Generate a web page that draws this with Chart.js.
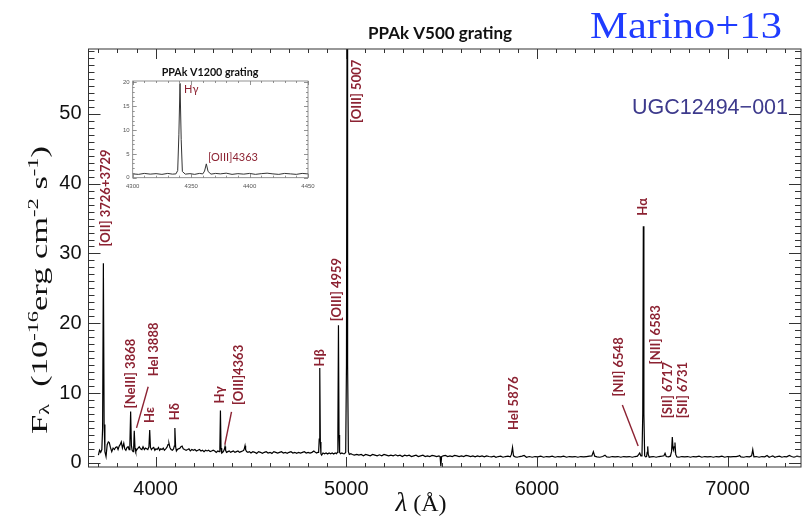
<!DOCTYPE html>
<html>
<head>
<meta charset="utf-8">
<script src="https://cdn.jsdelivr.net/npm/chart.js@4.4.1/dist/chart.umd.min.js"></script>
<style>
  html, body { margin: 0; padding: 0; background: #fff; }
  #wrap { position: relative; width: 803px; height: 520px; overflow: hidden; }
  #main { position: absolute; left: 0; top: 0; }
  #inset { position: absolute; left: 100px; top: 60px; }
</style>
</head>
<body>
<div id="wrap">
  <canvas id="main" width="803" height="520"></canvas>
  <canvas id="inset" width="220" height="140"></canvas>
</div>
<script>
// PPAk V500 spectrum of UGC12494-001: wavelength (Å) and flux (1e-16 erg cm^-2 s^-1 Å^-1)
const wavelength = [
  3700, 3706, 3712, 3718, 3722, 3726, 3730, 3734, 3740, 3746,
  3752, 3757, 3763, 3770, 3777, 3784, 3790, 3797, 3803, 3809,
  3814, 3820, 3826, 3833, 3838, 3844, 3850, 3856, 3861, 3865,
  3869, 3873, 3877, 3882, 3885, 3888, 3892, 3896, 3902, 3908,
  3914, 3921, 3928, 3934, 3941, 3947, 3953, 3959, 3965, 3969,
  3973, 3978, 3984, 3990, 3996, 4002, 4008, 4015, 4021, 4027,
  4034, 4040, 4046, 4053, 4059, 4065, 4070, 4075, 4081, 4088,
  4094, 4098, 4101, 4105, 4109, 4114, 4120, 4127, 4133, 4139,
  4145, 4152, 4160, 4168, 4175, 4182, 4190, 4198, 4206, 4214,
  4222, 4230, 4238, 4246, 4254, 4262, 4270, 4278, 4286, 4294,
  4302, 4310, 4318, 4326, 4333, 4337, 4340, 4343, 4347, 4352,
  4357, 4361, 4364, 4367, 4372, 4379, 4386, 4393, 4400, 4408,
  4416, 4424, 4432, 4440, 4448, 4456, 4462, 4466, 4469, 4472,
  4477, 4484, 4492, 4500, 4510, 4520, 4530, 4540, 4550, 4560,
  4570, 4580, 4590, 4600, 4610, 4620, 4630, 4640, 4650, 4660,
  4670, 4680, 4690, 4700, 4710, 4720, 4730, 4740, 4750, 4760,
  4770, 4780, 4790, 4800, 4810, 4820, 4830, 4838, 4845, 4851,
  4855, 4858, 4861, 4864, 4867, 4871, 4878, 4886, 4894, 4902,
  4910, 4918, 4926, 4934, 4942, 4949, 4953, 4956, 4959, 4962,
  4965, 4970, 4977, 4984, 4991, 4997, 5001, 5004, 5007, 5011,
  5016, 5024, 5032, 5042, 5055, 5066, 5078, 5090, 5102, 5114,
  5126, 5138, 5150, 5162, 5174, 5186, 5198, 5210, 5222, 5234,
  5246, 5258, 5270, 5282, 5294, 5306, 5318, 5330, 5342, 5354,
  5366, 5378, 5390, 5402, 5414, 5426, 5438, 5450, 5462, 5474,
  5486, 5492, 5496, 5500, 5508, 5520, 5532, 5544, 5556, 5568,
  5580, 5592, 5604, 5616, 5628, 5640, 5652, 5664, 5676, 5688,
  5700, 5712, 5724, 5736, 5748, 5762, 5775, 5785, 5797, 5810,
  5822, 5835, 5848, 5860, 5866, 5872, 5877, 5886, 5896, 5910,
  5922, 5933, 5945, 5960, 5975, 5990, 6005, 6020, 6035, 6050,
  6065, 6080, 6095, 6110, 6125, 6140, 6155, 6170, 6185, 6200,
  6215, 6230, 6245, 6260, 6275, 6288, 6296, 6303, 6315, 6330,
  6345, 6357, 6366, 6380, 6395, 6410, 6425, 6440, 6455, 6470,
  6485, 6500, 6515, 6527, 6534, 6539, 6545, 6551, 6555, 6558,
  6561, 6565, 6570, 6575, 6578, 6581, 6584, 6589, 6597, 6610,
  6625, 6640, 6655, 6666, 6672, 6678, 6690, 6700, 6706, 6710,
  6714, 6717, 6720, 6724, 6728, 6734, 6745, 6760, 6775, 6790,
  6805, 6820, 6835, 6850, 6865, 6880, 6895, 6910, 6925, 6940,
  6955, 6970, 6985, 7000, 7015, 7030, 7045, 7056, 7063, 7070,
  7085, 7100, 7115, 7126, 7132, 7138, 7150, 7165, 7180, 7195,
  7207, 7218, 7228, 7237, 7248, 7260, 7272, 7285, 7298, 7310,
  7324, 7335, 7348, 7364, 7375, 7385
];
const flux = [
  1.1, 1.8, 1.5, 1.9, 5.0, 28.6, 5.5, 1.6, 0.9, 2.6,
  3.0, 2.9, 2.2, 1.6, 2.1, 1.9, 2.2, 2.3, 1.9, 2.4,
  2.6, 3.0, 2.1, 2.8, 2.0, 1.8, 2.2, 2.3, 1.9, 2.6,
  7.35, 2.5, 1.8, 1.6, 2.2, 4.6, 2.1, 1.6, 1.9, 2.1,
  2.3, 2.0, 1.9, 2.3, 1.9, 2.1, 2.0, 1.9, 2.3, 4.7,
  2.2, 1.9, 2.1, 2.2, 1.8, 2.0, 1.9, 2.2, 1.8, 2.0,
  1.9, 2.1, 1.8, 2.0, 2.2, 2.6, 2.8, 2.2, 1.9, 1.8,
  2.0, 2.4, 5.0, 2.3, 1.7, 1.9, 2.0, 2.1, 2.3, 2.4,
  2.0, 1.9, 1.8, 1.9, 2.0, 1.7, 1.9, 1.8, 1.9, 1.7,
  1.8, 1.9, 1.7, 1.8, 1.6, 1.8, 1.7, 1.8, 1.6, 1.7,
  1.8, 1.7, 1.5, 1.7, 1.6, 2.2, 7.5, 2.1, 1.4, 1.5,
  1.7, 2.0, 2.35, 1.8, 1.5, 1.6, 1.7, 1.5, 1.6, 1.7,
  1.5, 1.6, 1.7, 1.5, 1.6, 1.7, 1.8, 2.1, 2.45, 1.9,
  1.6, 1.5, 1.6, 1.4, 1.6, 1.5, 1.35, 1.6, 1.5, 1.35,
  1.5, 1.6, 1.4, 1.5, 1.35, 1.6, 1.5, 1.4, 1.5, 1.6,
  1.4, 1.5, 1.35, 1.5, 1.6, 1.4, 1.5, 1.35, 1.5, 1.4,
  1.5, 1.6, 1.4, 1.5, 1.4, 1.5, 1.7, 1.5, 1.4, 1.5,
  1.5, 3.4, 13.6, 3.0, 1.3, 1.1, 1.4, 1.3, 1.4, 1.25,
  1.4, 1.3, 1.4, 1.25, 1.4, 1.3, 1.5, 4.5, 19.7, 4.0,
  1.5, 1.3, 1.4, 1.3, 1.3, 1.5, 14, 62, 14, 1.6,
  1.2, 1.3, 1.2, 1.1, 1.2, 1.1, 1.2, 1.0, 1.2, 1.1,
  1.0, 1.2, 1.1, 1.0, 1.15, 1.0, 1.2, 1.1, 1.0, 1.1,
  1.0, 1.15, 1.0, 1.1, 0.9, 1.1, 1.0, 1.1, 0.9, 1.0,
  1.1, 0.9, 1.0, 1.1, 0.9, 1.0, 0.9, 1.05, 1.0, 0.9,
  1.0, 0.9, -0.5, 0.9, 1.0, 1.05, 0.9, 1.0, 0.9, 1.05,
  1.0, 0.9, 1.0, 0.9, 1.05, 1.0, 0.9, 1.0, 0.85, 1.0,
  0.9, 1.0, 0.85, 1.0, 0.9, 0.85, 0.95, 0.8, 0.9, 0.95,
  0.8, 0.9, 0.95, 0.85, 1.2, 2.2, 1.0, 0.85, 0.8, 0.9,
  0.95, 1.05, 0.8, 0.9, 0.8, 0.9, 0.85, 0.95, 0.8, 0.9,
  0.85, 0.95, 0.8, 0.9, 0.85, 0.95, 0.8, 0.9, 0.85, 0.9,
  0.8, 0.9, 0.85, 0.9, 0.95, 1.0, 1.6, 0.95, 0.85, 0.8,
  0.9, 1.1, 0.85, 0.8, 0.9, 0.85, 0.9, 0.8, 0.9, 0.85,
  0.9, 0.8, 0.9, 0.95, 1.2, 1.4, 1.0, 1.0, 7.0, 33.9,
  7.0, 1.0, 0.85, 0.9, 1.5, 2.35, 1.2, 0.8, 0.85, 0.9,
  0.8, 0.9, 0.95, 1.0, 1.35, 0.9, 0.85, 0.95, 1.6, 3.7,
  2.0, 1.8, 2.3, 2.9, 1.2, 0.85, 0.8, 0.9, 0.85, 0.9,
  0.8, 0.9, 0.85, 0.95, 0.8, 0.9, 0.85, 0.9, 0.8, 0.9,
  0.85, 0.95, 0.8, 0.9, 0.85, 0.9, 0.9, 0.95, 1.05, 0.85,
  0.8, 0.9, 0.85, 1.0, 1.9, 0.85, 0.9, 0.8, 0.9, 0.85,
  1.05, 0.8, 0.9, 1.0, 0.8, 0.9, 0.95, 0.8, 0.9, 0.85,
  1.05, 0.9, 0.8, 0.95, 0.9, 0.9
];

// PPAk V1200 zoom around Hγ
const insetWave = [
  4300, 4305, 4310, 4315, 4320, 4325, 4330, 4334, 4337, 4338.5,
  4339.5, 4340.5, 4341.5, 4342.5, 4345, 4349, 4353, 4357, 4360, 4361.5,
  4363, 4364.5, 4367, 4371, 4375, 4380, 4385, 4390, 4395, 4400,
  4405, 4410, 4415, 4420, 4425, 4430, 4435, 4440, 4445, 4450
];
const insetFlux = [
  0.8, 0.7, 0.9, 0.75, 0.85, 0.7, 0.9, 0.75, 0.8, 1.5,
  9.0, 19.8, 8.0, 1.3, 0.75, 0.85, 0.7, 0.9, 0.8, 1.4,
  2.9, 1.3, 0.75, 0.9, 0.8, 0.95, 0.7, 0.85, 0.75, 0.9,
  0.7, 0.85, 0.95, 0.8, 0.7, 0.9, 0.8, 0.7, 0.9, 0.8
];

// axis tick labels
const xTickValues = [4000, 5000, 6000, 7000];
const yTickValues = [0, 10, 20, 30, 40, 50];
const insetXTicks = [4300, 4350, 4400, 4450];
const insetYTicks = [0, 5, 10, 15, 20];

// emission line identifications
const lineNames = [
  '[OII] 3726+3729', '[NeIII] 3868', 'HeI 3888', 'Hε', 'Hδ', 'Hγ',
  '[OIII]4363', 'Hβ', '[OIII] 4959', '[OIII] 5007', 'HeI 5876',
  '[NII] 6548', 'Hα', '[NII] 6583', '[SII] 6717', '[SII] 6731'
];
const insetNames = ['Hγ', '[OIII]4363'];

// where each rotated label sits: [wavelength of text column, flux at the text's lower end]
const labelPlacement = [
  [3740, 31.0], [3871, 7.8], [3991, 12.4], [3967, 5.7], [4101, 6.1], [4337, 8.5],
  [4435, 8.3], [4860, 13.8], [4952, 20.3], [5054, 48.7], [5881, 4.7],
  [6431, 9.5], [6557, 35.4], [6623, 14.1], [6686, 6.4], [6766, 6.4]
];
// leader strokes joining a label to its line: [λ1, F1, λ2, F2]
const leaders = [
  [3961, 10.9, 3900, 5.0],
  [4398, 7.3, 4363, 2.6],
  [6448, 8.3, 6531, 2.4]
];
// inset label anchors: [wavelength of left edge, flux at text middle]
const insetPlacement = [[4343.9, 18.6], [4364.4, 4.2]];

const LABEL_RED = '#8c2232';
const plainNumber = v => String(v);

function frameTicks(o) {
  return {
    id: 'frameTicks',
    afterDatasetsDraw(chart) {
      const { ctx, chartArea: a, scales: { x, y } } = chart;
      ctx.save();
      ctx.strokeStyle = o.color;
      ctx.lineWidth = o.width;
      ctx.strokeRect(a.left, a.top, a.right - a.left, a.bottom - a.top);
      ctx.beginPath();
      const isMajor = (v, step) => Math.abs(v / step - Math.round(v / step)) < 1e-6;
      for (let v = Math.ceil(x.min / o.xMinor) * o.xMinor; v <= x.max + 1e-9; v += o.xMinor) {
        const px = Math.round(x.getPixelForValue(v)) + 0.5;
        const len = isMajor(v, o.xMajor) ? o.xMajorLen : o.xMinorLen;
        ctx.moveTo(px, a.bottom); ctx.lineTo(px, a.bottom - len);
        ctx.moveTo(px, a.top); ctx.lineTo(px, a.top + len);
      }
      for (let v = Math.ceil(y.min / o.yMinor) * o.yMinor; v <= y.max + 1e-9; v += o.yMinor) {
        const py = Math.round(y.getPixelForValue(v)) + 0.5;
        const len = isMajor(v, o.yMajor) ? o.yMajorLen : o.yMinorLen;
        ctx.moveTo(a.left, py); ctx.lineTo(a.left + len, py);
        ctx.moveTo(a.right, py); ctx.lineTo(a.right - len, py);
      }
      ctx.stroke();
      ctx.restore();
    }
  };
}

function rotatedText(ctx, text, x, y, font, color) {
  ctx.save();
  ctx.translate(x, y);
  ctx.rotate(-Math.PI / 2);
  ctx.font = font;
  ctx.fillStyle = color;
  ctx.textAlign = 'left';
  ctx.textBaseline = 'middle';
  ctx.fillText(text, 0, 0);
  ctx.restore();
}

const mainAnnotations = {
  id: 'mainAnnotations',
  afterDraw(chart) {
    const { ctx, scales: { x, y } } = chart;
    ctx.save();
    // emission line names
    lineNames.forEach((name, i) => {
      const [w, f] = labelPlacement[i];
      rotatedText(ctx, name, x.getPixelForValue(w), y.getPixelForValue(f), 'bold 13px Lato', LABEL_RED);
    });
    ctx.strokeStyle = LABEL_RED;
    ctx.lineWidth = 1.4;
    leaders.forEach(([w1, f1, w2, f2]) => {
      ctx.beginPath();
      ctx.moveTo(x.getPixelForValue(w1), y.getPixelForValue(f1));
      ctx.lineTo(x.getPixelForValue(w2), y.getPixelForValue(f2));
      ctx.stroke();
    });

    // panel title
    ctx.fillStyle = '#111';
    ctx.font = 'bold 17px Lato';
    ctx.textAlign = 'center';
    ctx.textBaseline = 'alphabetic';
    ctx.fillText('PPAk V500 grating', 440, 39);

    // reference tag
    ctx.save();
    ctx.font = '38px "Liberation Serif"';
    ctx.fillStyle = '#1f3cff';
    ctx.translate(686, 37.5);
    ctx.scale(1.12, 1);
    ctx.textAlign = 'center';
    ctx.fillText('Marino+13', 0, 0);
    ctx.restore();

    // object name
    ctx.font = '21.5px "Liberation Sans"';
    ctx.fillStyle = '#3d3a8c';
    ctx.textAlign = 'right';
    ctx.fillText('UGC12494\u2212001', 788, 114);

    // x-axis title
    ctx.fillStyle = '#111';
    ctx.textAlign = 'left';
    ctx.font = 'italic 27px "Liberation Serif"';
    const lam = 'λ';
    const lw = ctx.measureText(lam).width;
    ctx.font = '24px "Liberation Serif"';
    const rest = ' (Å)';
    const rw = ctx.measureText(rest).width;
    const sx = 421 - (lw + rw) / 2;
    ctx.font = 'italic 27px "Liberation Serif"';
    ctx.fillText(lam, sx, 511);
    ctx.font = '24px "Liberation Serif"';
    ctx.fillText(rest, sx + lw, 511);

    // y-axis title with sub/superscripts
    const parts = [
      ['F', 'n'], ['λ', 'sub'], ['  (10', 'n'], ['-16', 'sup'], ['erg cm', 'n'],
      ['-2', 'sup'], [' s', 'n'], ['-1', 'sup'], [')', 'n']
    ];
    const big = '23px "Liberation Serif"', small = '15px "Liberation Serif"';
    let total = 0;
    parts.forEach(([t, k]) => { ctx.font = k === 'n' ? big : small; total += ctx.measureText(t).width; });
    const stretch = 288 / total;
    ctx.translate(47, 290);
    ctx.rotate(-Math.PI / 2);
    ctx.scale(stretch, 1);
    let u = -total / 2;
    parts.forEach(([t, k]) => {
      ctx.font = k === 'n' ? big : small;
      const dy = k === 'sup' ? -9 : (k === 'sub' ? 2 : 0);
      ctx.fillText(t, u, dy);
      u += ctx.measureText(t).width;
    });
    ctx.restore();
  }
};

const insetAnnotations = {
  id: 'insetAnnotations',
  afterDraw(chart) {
    const { ctx, scales: { x, y } } = chart;
    ctx.save();
    ctx.fillStyle = '#111';
    ctx.font = 'bold 10.7px Lato';
    ctx.textAlign = 'center';
    ctx.fillText('PPAk V1200 grating', 110, 16);
    ctx.fillStyle = LABEL_RED;
    ctx.textAlign = 'left';
    ctx.textBaseline = 'middle';
    ctx.font = '11px Lato';
    insetNames.forEach((name, i) => {
      const [w, f] = insetPlacement[i];
      ctx.fillText(name, x.getPixelForValue(w), y.getPixelForValue(f));
    });
    ctx.restore();
  }
};

const spectrum = wavelength.map((w, i) => ({ x: w, y: flux[i] }));
const insetSpectrum = insetWave.map((w, i) => ({ x: w, y: insetFlux[i] }));

new Chart(document.getElementById('main'), {
  type: 'line',
  data: {
    datasets: [{
      data: spectrum,
      borderColor: '#000',
      borderWidth: 1.2,
      pointRadius: 0,
      tension: 0,
      fill: false
    }]
  },
  options: {
    responsive: false,
    animation: false,
    events: [],
    layout: { padding: { left: 0, right: 2, top: 49, bottom: 0 } },
    plugins: { legend: { display: false }, tooltip: { enabled: false }, title: { display: false } },
    scales: {
      x: {
        type: 'linear', min: 3648, max: 7385,
        afterBuildTicks: s => { s.ticks = xTickValues.map(v => ({ value: v })); },
        afterFit: s => { s.height = 53; },
        grid: { display: false, drawTicks: false },
        border: { display: false },
        ticks: { color: '#111', font: { family: 'Liberation Sans', size: 20 }, padding: 10, maxRotation: 0, autoSkip: false, callback: plainNumber }
      },
      y: {
        type: 'linear', min: -0.6, max: 59.3,
        afterBuildTicks: s => { s.ticks = yTickValues.map(v => ({ value: v })); },
        afterFit: s => { s.width = 88.5; },
        grid: { display: false, drawTicks: false },
        border: { display: false },
        ticks: { color: '#111', font: { family: 'Liberation Sans', size: 20 }, padding: 7, autoSkip: false, callback: plainNumber }
      }
    }
  },
  plugins: [
    frameTicks({ color: '#333', width: 1, xMinor: 100, xMajor: 1000, xMinorLen: 4, xMajorLen: 10,
                 yMinor: 1, yMajor: 10, yMinorLen: 6, yMajorLen: 12 }),
    mainAnnotations
  ]
});

new Chart(document.getElementById('inset'), {
  type: 'line',
  data: {
    datasets: [{
      data: insetSpectrum,
      borderColor: '#333',
      borderWidth: 1,
      pointRadius: 0,
      tension: 0,
      fill: false
    }]
  },
  options: {
    responsive: false,
    animation: false,
    events: [],
    layout: { padding: { left: 0, right: 12, top: 21, bottom: 0 } },
    plugins: { legend: { display: false }, tooltip: { enabled: false } },
    scales: {
      x: {
        type: 'linear', min: 4300, max: 4450,
        afterBuildTicks: s => { s.ticks = insetXTicks.map(v => ({ value: v })); },
        afterFit: s => { s.height = 22.3; },
        grid: { display: false, drawTicks: false },
        border: { display: false },
        ticks: { color: '#555', font: { family: 'Liberation Sans', size: 6 }, padding: 5, maxRotation: 0, autoSkip: false, callback: plainNumber }
      },
      y: {
        type: 'linear', min: 0, max: 20.3,
        afterBuildTicks: s => { s.ticks = insetYTicks.map(v => ({ value: v })); },
        afterFit: s => { s.width = 32.7; },
        grid: { display: false, drawTicks: false },
        border: { display: false },
        ticks: { color: '#555', font: { family: 'Liberation Sans', size: 6 }, padding: 3, autoSkip: false, callback: plainNumber }
      }
    }
  },
  plugins: [
    frameTicks({ color: '#777', width: 0.8, xMinor: 10, xMajor: 50, xMinorLen: 2, xMajorLen: 4,
                 yMinor: 1, yMajor: 5, yMinorLen: 2, yMajorLen: 4 }),
    insetAnnotations
  ]
});
</script>
</body>
</html>
